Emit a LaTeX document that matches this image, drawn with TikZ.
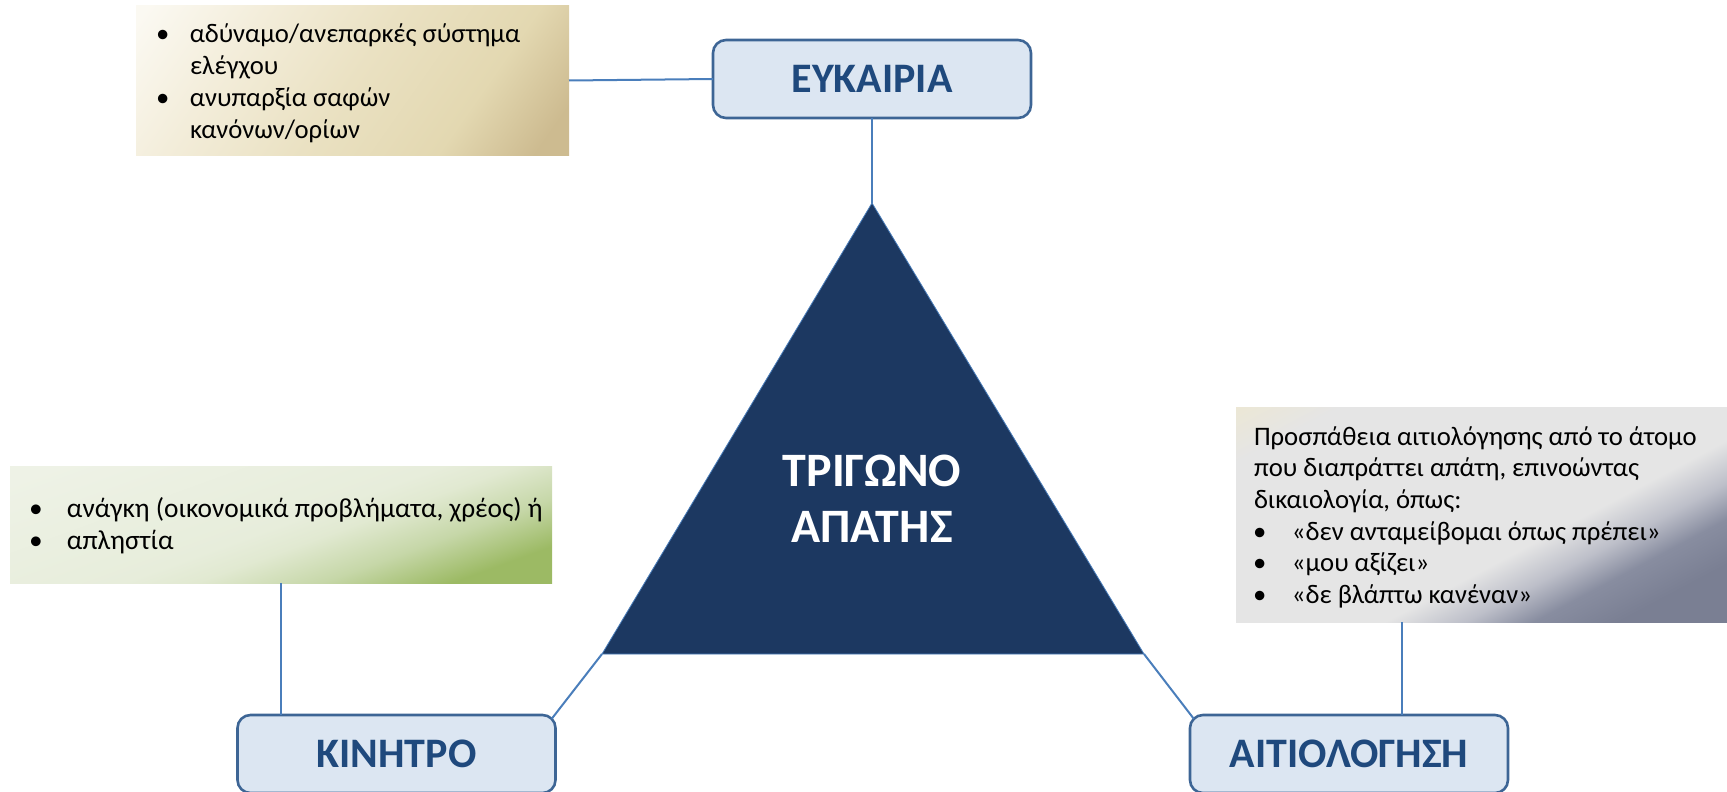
\documentclass[tikz,border=0pt]{standalone}
\usepackage{fontspec}
\setmainfont{Carlito}
\usetikzlibrary{calc}
\definecolor{tanA}{HTML}{FBF9F2}
\definecolor{tanB}{HTML}{F3EDDA}
\definecolor{tanC}{HTML}{EAE1C2}
\definecolor{tanD}{HTML}{E3D8B1}
\definecolor{tanE}{HTML}{CDBB90}
\definecolor{grA}{HTML}{EEF2E6}
\definecolor{grB}{HTML}{E7EDDB}
\definecolor{grC}{HTML}{E1E9D1}
\definecolor{grD}{HTML}{C6D7A8}
\definecolor{grE}{HTML}{9CBA64}
\definecolor{gyA}{HTML}{EEE8D0}
\definecolor{gyB}{HTML}{E5E5E5}
\definecolor{gyC}{HTML}{BDBFC9}
\definecolor{gyD}{HTML}{888DA0}
\definecolor{gyE}{HTML}{7A7F93}
\definecolor{navy}{HTML}{1C3861}
\definecolor{conn}{HTML}{4A7EBB}
\definecolor{boxline}{HTML}{3D6595}
\definecolor{boxfill}{HTML}{DCE6F2}
\definecolor{boxtext}{HTML}{1F497D}
\pgfdeclarehorizontalshading{tanshade}{100bp}{color(0bp)=(tanA); color(27bp)=(tanA); color(37.8bp)=(tanB); color(50bp)=(tanC); color(62.2bp)=(tanD); color(70.9bp)=(tanE); color(100bp)=(tanE)}
\pgfdeclarehorizontalshading{grnshade}{100bp}{color(0bp)=(grA); color(38bp)=(grA); color(50bp)=(grB); color(52.3bp)=(grC); color(56.2bp)=(grD); color(60.2bp)=(grE); color(100bp)=(grE)}
\pgfdeclarehorizontalshading{gryshade}{100bp}{color(0bp)=(gyA); color(29bp)=(gyA); color(35bp)=(gyB); color(54.6bp)=(gyB); color(58.1bp)=(gyC); color(61.1bp)=(gyD); color(64.8bp)=(gyE); color(100bp)=(gyE)}
\tikzset{
  areabox/.style={inner sep=0pt, outer sep=0pt},
  body/.style={font=\fontsize{26.7}{31.7}\selectfont, inner sep=0pt, outer sep=0pt, anchor=base west, text=black},
  lbox/.style={draw=boxline, line width=2.6pt, fill=boxfill, rounded corners=13pt,
    minimum width=318pt, minimum height=78pt, inner sep=0pt, outer sep=0pt,
    font=\fontsize{42}{50}\selectfont\bfseries, text=boxtext},
  conline/.style={draw=conn, line width=2pt},
}
\newcommand{\bul}[1]{\makebox[#1][l]{•}}
% #1 shading, #2 angle, #3 half diagonal, #4 centre x, #5 centre y, #6 x0, #7 y0, #8 x1, #9 y1
\newcommand{\gradarea}[9]{%
  \begin{scope}
    \clip (#6,#7) rectangle (#8,#9);
    \begin{scope}[transform canvas={shift={(#4,#5)},rotate=#2}]
      \shade[shading=#1] (-#3,-#3) rectangle (#3,#3);
    \end{scope}
  \end{scope}}
\begin{document}
\begin{tikzpicture}[x=1pt,y=-1pt]
\useasboundingbox (0,0) rectangle (1727,792);
% gradient boxes
\gradarea{tanshade}{-35}{229.1}{352.5}{80.5}{136}{6}{569}{155}
\gradarea{grnshade}{-70}{277.2}{281}{524.5}{10}{466}{552}{583}
\gradarea{gryshade}{-62}{268.4}{1481.5}{514.5}{1236}{407}{1727}{622}
\node[areabox, minimum width=433pt, minimum height=149pt] (tan) at (352.5,80.5) {};
\node[areabox, minimum width=542pt, minimum height=117pt] (grn) at (281,524.5) {};
\node[areabox, minimum width=491pt, minimum height=215pt] (rat) at (1481.5,514.5) {};
% box texts
\node[body] (tantext) at (156,43) {\begin{tabular}[t]{@{}l@{}l@{}}
\bul{34pt} & αδύναμο/ανεπαρκές σύστημα\\
 & ελέγχου\\
\bul{34pt} & ανυπαρξία σαφών\\
 & κανόνων/ορίων
\end{tabular}};
\node[body, font=\fontsize{27.4}{32}\selectfont] (grntext) at (29,517) {\begin{tabular}[t]{@{}l@{}l@{}}
\bul{38pt} & ανάγκη (οικονομικά προβλήματα, χρέος) ή\\
\bul{38pt} & απληστία
\end{tabular}};
\node[body] (rattext) at (1253,445) {\begin{tabular}[t]{@{}l@{}l@{}}
\multicolumn{2}{@{}l@{}}{\hspace{1pt}Προσπάθεια αιτιολόγησης από το άτομο}\\
\multicolumn{2}{@{}l@{}}{\hspace{1pt}που διαπράττει απάτη, επινοώντας}\\
\multicolumn{2}{@{}l@{}}{\hspace{1pt}δικαιολογία, όπως:}\\
\bul{39pt} & «δεν ανταμείβομαι όπως πρέπει»\\
\bul{39pt} & «μου αξίζει»\\
\bul{39pt} & «δε βλάπτω κανέναν»
\end{tabular}};
% triangle
\coordinate (apex) at (872,203);
\coordinate (bl) at (602,654);
\coordinate (br) at (1144,654);
\fill[navy] (apex) -- (bl) -- (br) -- cycle;
\draw[conn, line width=0.8pt] (apex) -- (bl) -- (br) -- cycle;
\node[anchor=base, inner sep=0pt, text=white, font=\fontsize{48}{56}\selectfont\bfseries] (tri) at (872,486)
  {\begin{tabular}[t]{@{}c@{}}ΤΡΙΓΩΝΟ\\ΑΠΑΤΗΣ\end{tabular}};
% label boxes
\node[lbox] (eyk) at (872,79) {ΕΥΚΑΙΡΙΑ};
\node[lbox] (kin) at (396.5,754) {ΚΙΝΗΤΡΟ};
\node[lbox] (ait) at (1349,754) {ΑΙΤΙΟΛΟΓΗΣΗ};
% connectors
\coordinate (rc) at ($(rat.south west)!0.338!(rat.south east)$);
\path[conline] (tan.east) -- (eyk.west);
\path[conline] (eyk.south) -- (apex);
\path[conline] (bl) -- ($(kin.north east)+(-3.8,3.8)$);
\path[conline] (br) -- ($(ait.north west)+(3.8,3.8)$);
\path[conline] (grn.south) -- (grn.south |- kin.north);
\path[conline] (rc) -- (rc |- ait.north);
\end{tikzpicture}
\end{document}
